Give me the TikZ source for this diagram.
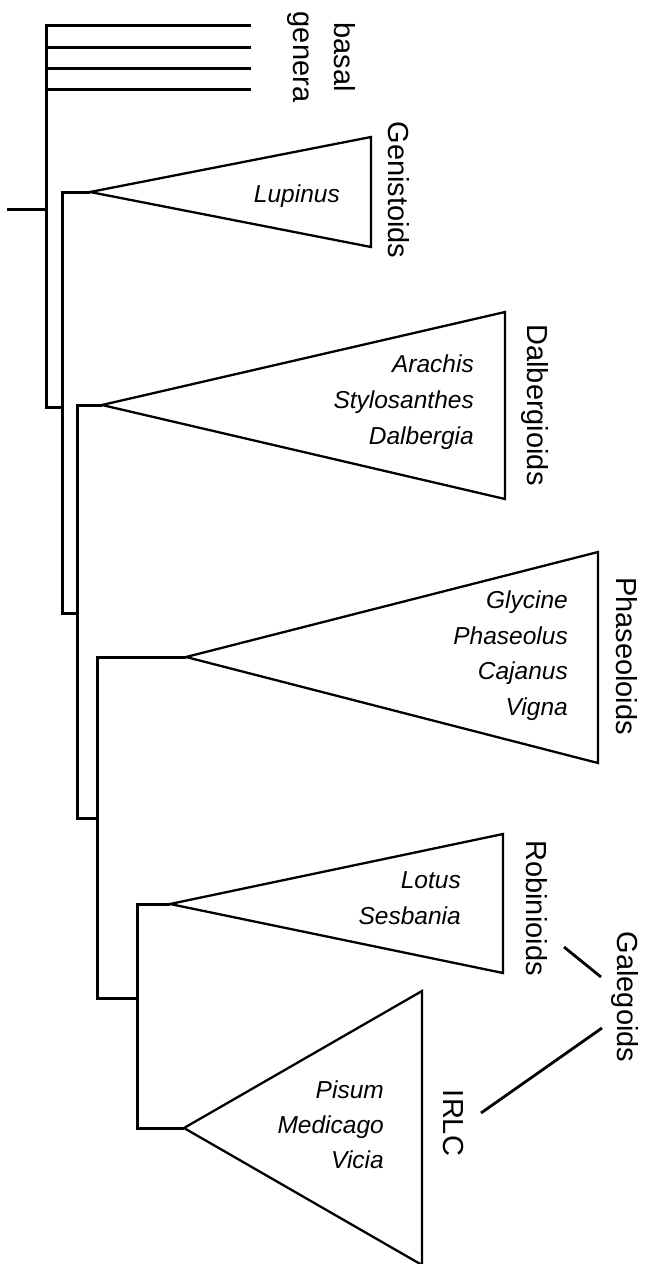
\documentclass[tikz,border=0pt]{standalone}
\usepackage{fontspec}
\setmainfont{Liberation Sans}
\begin{document}
\begin{tikzpicture}[x=1pt,y=-1pt,
  tree/.style={line width=3pt,line join=miter},
  tri/.style={line width=2.3pt,line join=miter},
  gline/.style={line width=2.8pt},
  sp/.style={font=\fontsize{24.5}{28}\selectfont\itshape,inner sep=0pt,anchor=base east},
  lab/.style={font=\fontsize{29}{34}\selectfont,inner sep=0pt,rotate=-90,anchor=base}]
\useasboundingbox (0,0) rectangle (646,1264);
% tree coordinates
\coordinate (rootL) at (7,209);
\coordinate (rootR) at (46,209);
\coordinate (b1L) at (46,25);  \coordinate (b1R) at (251,25);
\coordinate (b2L) at (46,47);  \coordinate (b2R) at (251,47);
\coordinate (b3L) at (46,68);  \coordinate (b3R) at (251,68);
\coordinate (b4L) at (46,89);  \coordinate (b4R) at (251,89);
\coordinate (m1) at (46,407);  \coordinate (m2) at (62,407);
\coordinate (g1) at (62,192);  \coordinate (genA) at (90,192);
\coordinate (g2) at (62,613);  \coordinate (g3) at (77,613);
\coordinate (d1) at (77,405);  \coordinate (dalA) at (102,405);
\coordinate (d2) at (77,818);  \coordinate (d3) at (97,818);
\coordinate (p1) at (97,657);  \coordinate (phaA) at (186,657);
\coordinate (p2) at (97,998);  \coordinate (p3) at (137,998);
\coordinate (q1) at (137,904); \coordinate (robA) at (170,904);
\coordinate (q2) at (137,1128);\coordinate (irlA) at (184,1128);
% triangle corners
\coordinate (genT) at (371,137); \coordinate (genB) at (371,247);
\coordinate (dalT) at (505,312); \coordinate (dalB) at (505,499);
\coordinate (phaT) at (598,552); \coordinate (phaB) at (598,763);
\coordinate (robT) at (503,834); \coordinate (robB) at (503,973);
\coordinate (irlT) at (422,991); \coordinate (irlB) at (422,1265);
% branches
\draw[tree] (rootL) -- (rootR);
\draw[tree] (b1R) -- (b1L) -- (m1) -- (m2);
\draw[tree] (b2L) -- (b2R);
\draw[tree] (b3L) -- (b3R);
\draw[tree] (b4L) -- (b4R);
\draw[tree] (genA) -- (g1) -- (g2) -- (g3);
\draw[tree] (dalA) -- (d1) -- (d2) -- (d3);
\draw[tree] (phaA) -- (p1) -- (p2) -- (p3);
\draw[tree] (robA) -- (q1) -- (q2) -- (irlA);
% collapsed clades
\draw[tri] (genA) -- (genT) -- (genB) -- cycle;
\draw[tri] (dalA) -- (dalT) -- (dalB) -- cycle;
\draw[tri] (phaA) -- (phaT) -- (phaB) -- cycle;
\draw[tri] (robA) -- (robT) -- (robB) -- cycle;
\draw[tri] (irlA) -- (irlT) -- (irlB) -- cycle;
% genera
\node[sp] (lupinus) at (340,202) {Lupinus};
\node[sp] (arachis) at (474,372) {Arachis};
\node[sp] (stylo) at (474,408) {Stylosanthes};
\node[sp] (dalbergia) at (474,444) {Dalbergia};
\node[sp] (glycine) at (568,608) {Glycine};
\node[sp] (phaseolus) at (568,644) {Phaseolus};
\node[sp] (cajanus) at (568,679) {Cajanus};
\node[sp] (vigna) at (568,715) {Vigna};
\node[sp] (lotus) at (461,888) {Lotus};
\node[sp] (sesbania) at (461,924) {Sesbania};
\node[sp] (pisum) at (384,1098) {Pisum};
\node[sp] (medicago) at (384,1133) {Medicago};
\node[sp] (vicia) at (384,1168) {Vicia};
% clade labels
\node[lab] (basal) at (334,57) {basal};
\node[lab] (genera) at (293,57) {genera};
\node[lab] (genist) at (388,190) {Genistoids};
\node[lab] (dalberg) at (527,405) {Dalbergioids};
\node[lab] (phaseol) at (616,656) {Phaseoloids};
\node[lab] (robin) at (526,908) {Robinioids};
\node[lab] (irlc) at (443,1123) {IRLC};
\node[lab] (galeg) at (617,997) {Galegoids};
% Galegoids brackets
\coordinate (l1a) at (564,947); \coordinate (l1b) at (601,977);
\coordinate (l2a) at (602,1028); \coordinate (l2b) at (481,1113);
\draw[gline] (l1a) -- (l1b);
\draw[gline] (l2a) -- (l2b);
\end{tikzpicture}
\end{document}
